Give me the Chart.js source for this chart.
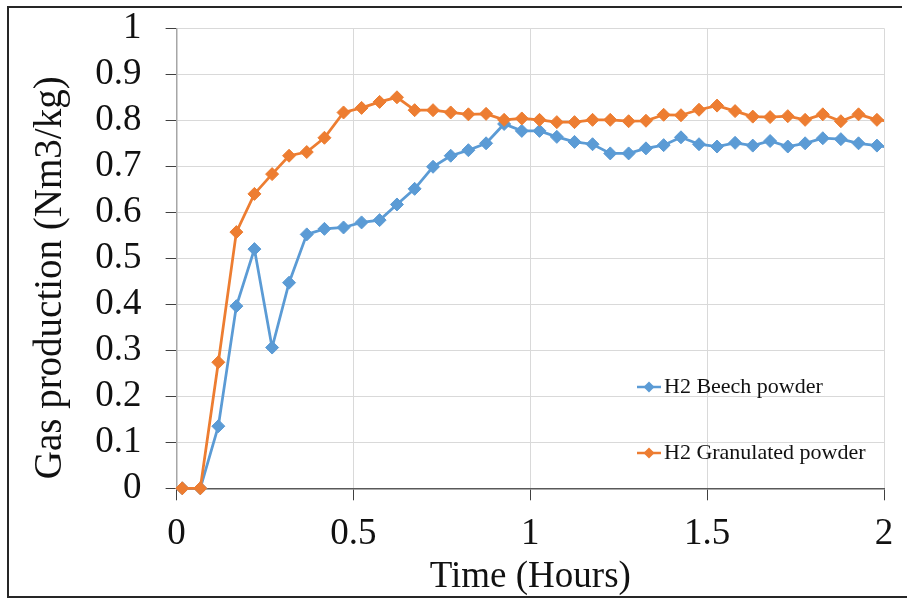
<!DOCTYPE html>
<html lang="en">
<head>
<meta charset="UTF-8">
<title>Gas production</title>
<script src="https://cdn.jsdelivr.net/npm/chart.js"></script>
<style>
  body { margin: 0; background: #fff; }
  canvas { display: block; }
</style>
</head>
<body>
<canvas id="gasChart" width="907" height="601"></canvas>
<script>
// sample times (hours) and H2 yields (Nm3/kg)
const timeHours = [0.016, 0.067, 0.118, 0.169, 0.220, 0.270, 0.318, 0.368, 0.418, 0.472,
                   0.523, 0.574, 0.623, 0.673, 0.725, 0.775, 0.825, 0.875, 0.926, 0.976,
                   1.026, 1.075, 1.125, 1.176, 1.226, 1.278, 1.327, 1.377, 1.426, 1.477,
                   1.528, 1.579, 1.629, 1.678, 1.728, 1.777, 1.827, 1.878, 1.928, 1.980, 2.030];
const beechPowder = [0, 0, 0.135, 0.396, 0.520, 0.306, 0.447, 0.552, 0.564, 0.567,
                     0.578, 0.583, 0.617, 0.651, 0.699, 0.723, 0.735, 0.750, 0.792, 0.777,
                     0.777, 0.764, 0.753, 0.748, 0.728, 0.728, 0.739, 0.746, 0.763, 0.748,
                     0.743, 0.751, 0.745, 0.755, 0.743, 0.750, 0.761, 0.759, 0.750, 0.745, 0.740];
const granulatedPowder = [0, 0, 0.274, 0.557, 0.640, 0.683, 0.723, 0.731, 0.762, 0.817,
                          0.827, 0.840, 0.850, 0.822, 0.822, 0.817, 0.813, 0.814, 0.801, 0.804,
                          0.801, 0.796, 0.796, 0.801, 0.801, 0.798, 0.799, 0.812, 0.811, 0.823,
                          0.832, 0.820, 0.808, 0.807, 0.809, 0.801, 0.813, 0.798, 0.813, 0.801, 0.797];
const seriesNames = ['H2 Beech powder', 'H2 Granulated powder'];
const seriesColors = ['#5b9bd5', '#ed7d31'];
const xTickValues = [0, 0.5, 1, 1.5, 2];
const yTickValues = [0, 0.1, 0.2, 0.3, 0.4, 0.5, 0.6, 0.7, 0.8, 0.9, 1];
const xTitle = 'Time (Hours)';
const yTitle = 'Gas production (Nm3/kg)';

const serif = 'Liberation Serif';
const textColor = '#111';

function toPoints(values) {
    return values.map((v, i) => ({ x: timeHours[i], y: v }));
}

// white page + the thin frame around the figure
const framePlugin = {
    id: 'frame',
    beforeDraw(chart) {
        const ctx = chart.ctx;
        ctx.save();
        ctx.fillStyle = '#fff';
        ctx.fillRect(0, 0, chart.width, chart.height);
        ctx.restore();
    },
    afterDraw(chart) {
        const ctx = chart.ctx;
        ctx.save();
        ctx.strokeStyle = '#262626';
        ctx.lineWidth = 2;
        ctx.beginPath();
        ctx.moveTo(902, 7);
        ctx.lineTo(8, 7);
        ctx.lineTo(8, 597);
        ctx.lineTo(907, 597);
        ctx.stroke();
        ctx.restore();
    }
};

// legend sits inside the plot, lower right
const legendPlugin = {
    id: 'insideLegend',
    afterDraw(chart) {
        const ctx = chart.ctx;
        const rows = [387, 453];
        ctx.save();
        chart.data.datasets.forEach((ds, i) => {
            const y = rows[i];
            ctx.strokeStyle = ds.borderColor;
            ctx.fillStyle = ds.borderColor;
            ctx.lineWidth = 2.5;
            ctx.beginPath();
            ctx.moveTo(637, y);
            ctx.lineTo(661, y);
            ctx.stroke();
            ctx.beginPath();
            ctx.moveTo(649 - 5.5, y);
            ctx.lineTo(649, y - 5.5);
            ctx.lineTo(649 + 5.5, y);
            ctx.lineTo(649, y + 5.5);
            ctx.closePath();
            ctx.fill();
            ctx.fillStyle = textColor;
            ctx.font = '22px "' + serif + '"';
            ctx.textAlign = 'left';
            ctx.textBaseline = 'middle';
            ctx.fillText(ds.label, 664, y);
        });
        ctx.restore();
    }
};

const ctx = document.getElementById('gasChart').getContext('2d');
new Chart(ctx, {
    type: 'line',
    data: {
        datasets: [{
            label: seriesNames[0],
            data: toPoints(beechPowder),
            borderColor: seriesColors[0],
            backgroundColor: seriesColors[0],
            order: 1
        }, {
            label: seriesNames[1],
            data: toPoints(granulatedPowder),
            borderColor: seriesColors[1],
            backgroundColor: seriesColors[1],
            order: 0
        }]
    },
    options: {
        responsive: false,
        animation: false,
        layout: { padding: { left: 0, top: 28.3, right: 23, bottom: 0 } },
        datasets: {
            line: {
                borderWidth: 2.75,
                tension: 0,
                pointStyle: 'rectRot',
                pointRadius: 6.5,
                pointBorderWidth: 1,
                clip: { left: 10, top: 10, right: 0, bottom: 10 }
            }
        },
        plugins: {
            legend: { display: false },
            tooltip: { enabled: false }
        },
        scales: {
            x: {
                type: 'linear',
                position: 'bottom',
                min: 0,
                max: 2,
                afterBuildTicks: s => { s.ticks = xTickValues.map(v => ({ value: v })); },
                afterFit: s => {
                    s.height = 601 - 488.3;
                    s.paddingLeft = 0;
                    s.paddingRight = 0;
                },
                grid: { color: '#d9d9d9', tickColor: '#404040', tickLength: 12 },
                border: { color: '#595959', width: 1.5 },
                ticks: {
                    font: { family: serif, size: 37 },
                    color: textColor,
                    padding: 12,
                    maxRotation: 0,
                    autoSkip: false,
                    callback: v => String(v)
                },
                title: {
                    display: true,
                    text: xTitle,
                    font: { family: serif, size: 37 },
                    color: textColor,
                    padding: { top: 0, bottom: 2 }
                }
            },
            y: {
                min: 0,
                max: 1,
                afterBuildTicks: s => { s.ticks = yTickValues.map(v => ({ value: v })); },
                afterFit: s => {
                    s.width = 176.6;
                    s.paddingTop = 0;
                    s.paddingBottom = 0;
                },
                grid: { color: '#d9d9d9', tickColor: '#404040', tickLength: 11 },
                border: { color: '#a6a6a6', width: 1.5 },
                ticks: {
                    font: { family: serif, size: 37 },
                    color: textColor,
                    padding: 24,
                    autoSkip: false,
                    callback: v => String(v)
                },
                title: {
                    display: true,
                    // trailing spaces nudge the centred title down like the original
                    text: yTitle + '    ',
                    font: { family: serif, size: 39 },
                    color: textColor,
                    padding: { top: 27, bottom: 0 }
                }
            }
        }
    },
    plugins: [framePlugin, legendPlugin]
});
</script>
</body>
</html>
